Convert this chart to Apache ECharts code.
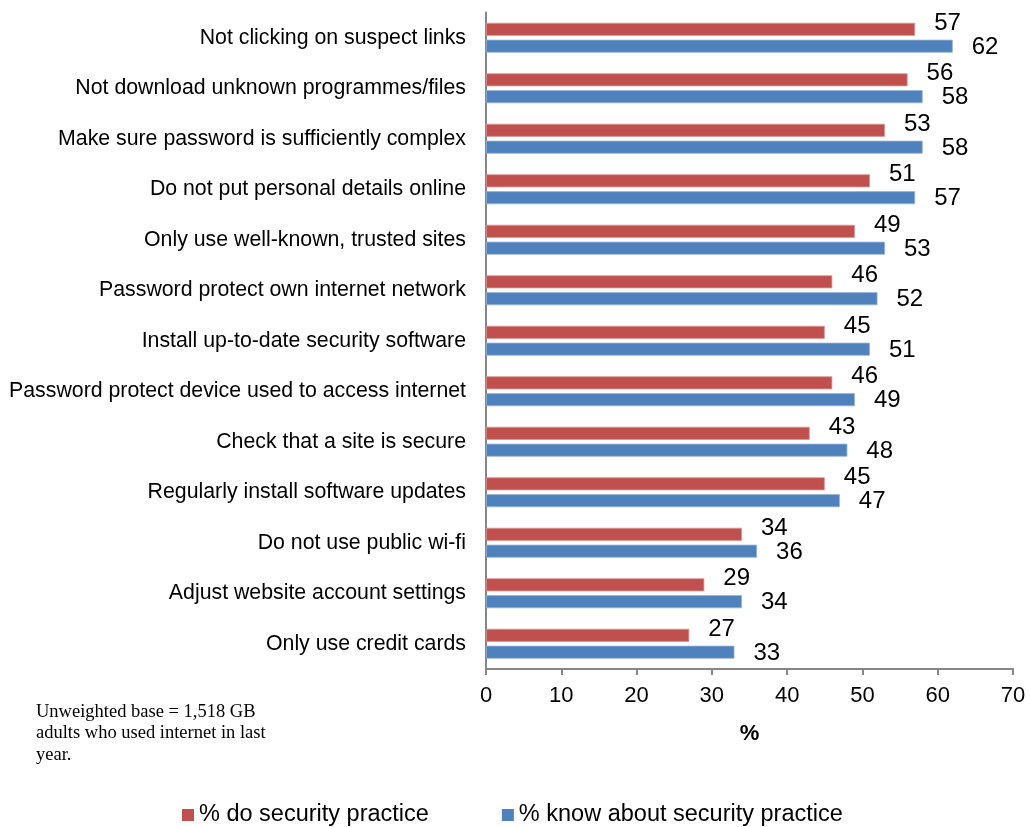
<!DOCTYPE html>
<html>
<head>
<meta charset="utf-8">
<script src="https://cdn.jsdelivr.net/npm/echarts@6/dist/echarts.min.js"></script>
<style>
  html, body { margin: 0; padding: 0; background: #ffffff; }
  #chart { width: 1030px; height: 827px; }
</style>
</head>
<body>
<div id="chart"></div>
<script>
// Security practices, top to bottom
const categories = [
  'Not clicking on suspect links',
  'Not download unknown programmes/files',
  'Make sure password is sufficiently complex',
  'Do not put personal details online',
  'Only use well-known, trusted sites',
  'Password protect own internet network',
  'Install up-to-date security software',
  'Password protect device used to access internet',
  'Check that a site is secure',
  'Regularly install software updates',
  'Do not use public wi-fi',
  'Adjust website account settings',
  'Only use credit cards'
];
const doPractice = [57, 56, 53, 51, 49, 46, 45, 46, 43, 45, 34, 29, 27];
const knowPractice = [62, 58, 58, 57, 53, 52, 51, 49, 48, 47, 36, 34, 33];
const seriesNames = ['% do security practice', '% know about security practice'];
const xTicks = { min: 0, max: 70, interval: 10 };
const axisTitle = '%';
const footnote = ['Unweighted base = 1,518 GB', 'adults who used internet in last', 'year.'];

const FONT = 'Liberation Sans, Arial, sans-serif';
const chart = echarts.init(document.getElementById('chart'), null, { renderer: 'canvas' });

chart.setOption({
  backgroundColor: '#ffffff',
  animation: false,
  grid: { left: 486, right: 17, top: 12.5, bottom: 158, containLabel: false },
  legend: {
    data: seriesNames,
    left: 177,
    top: 798,
    itemWidth: 12,
    itemHeight: 12,
    itemGap: 73,
    icon: 'rect',
    itemStyle: { borderWidth: 0 },
    textStyle: { fontFamily: FONT, fontSize: 23.5, color: '#000000' }
  },
  xAxis: {
    type: 'value',
    min: xTicks.min,
    max: xTicks.max,
    interval: xTicks.interval,
    name: axisTitle,
    nameLocation: 'middle',
    nameGap: 54,
    nameTextStyle: { fontFamily: FONT, fontSize: 22, fontWeight: 'bold', color: '#000000' },
    axisLine: { show: true, lineStyle: { color: '#868686', width: 2 } },
    axisTick: { show: true, length: 6, lineStyle: { color: '#868686', width: 2 } },
    axisLabel: { fontFamily: FONT, fontSize: 22, color: '#000000', margin: 16 },
    splitLine: { show: false }
  },
  yAxis: {
    type: 'category',
    data: categories,
    inverse: true,
    axisLine: { show: true, lineStyle: { color: '#868686', width: 2 } },
    axisTick: { show: false },
    axisLabel: { fontFamily: FONT, fontSize: 21.3, color: '#000000', margin: 20 }
  },
  series: [
    {
      name: seriesNames[0],
      type: 'bar',
      data: doPractice,
      barWidth: 13,
      barGap: '30%',
      itemStyle: { color: '#C0504D', borderColor: '#D99694', borderWidth: 0.8 },
      label: {
        show: true,
        position: 'right',
        distance: 19,
        offset: [0, -6],
        fontFamily: FONT,
        fontSize: 24,
        color: '#000000'
      }
    },
    {
      name: seriesNames[1],
      type: 'bar',
      data: knowPractice,
      barWidth: 13,
      barGap: '30%',
      itemStyle: { color: '#4F81BD', borderColor: '#95B3D7', borderWidth: 0.8 },
      label: {
        show: true,
        position: 'right',
        distance: 19,
        offset: [0, 1],
        fontFamily: FONT,
        fontSize: 24,
        color: '#000000'
      }
    }
  ],
  graphic: [
    {
      type: 'text',
      left: 36,
      top: 701,
      style: {
        text: footnote.join('\n'),
        font: '18.5px "Liberation Serif", "Times New Roman", serif',
        lineHeight: 21.5,
        fill: '#000000'
      }
    }
  ]
});
</script>
</body>
</html>
